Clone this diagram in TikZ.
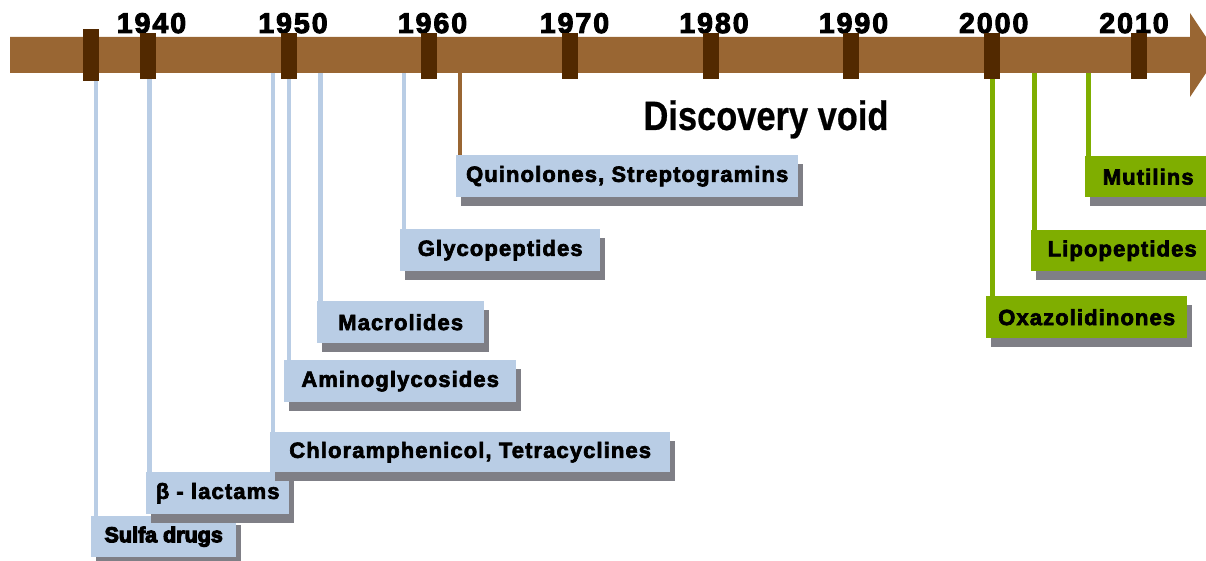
\documentclass[tikz,border=0pt]{standalone}
\usepackage{fontspec}
\usetikzlibrary{shadows,backgrounds}
\setmainfont{Liberation Sans}
\newfontfamily\labfont[LetterSpace=5,FakeBold=3]{Liberation Sans Bold}
\newfontfamily\sulfont[LetterSpace=0,FakeBold=5]{Liberation Sans Bold}
\newfontfamily\yearfont[LetterSpace=7,FakeBold=3.5]{Liberation Sans Bold}
\newfontfamily\voidfont[FakeStretch=0.84,FakeBold=0.5]{Liberation Sans Bold}
\definecolor{barbrown}{HTML}{996633}
\definecolor{tickbrown}{HTML}{522900}
\definecolor{lblue}{HTML}{B9CDE5}
\definecolor{lgreen}{HTML}{7FAE00}
\definecolor{shgray}{HTML}{7F7F86}
\tikzset{
  box/.style={anchor=north west, inner sep=0pt, align=center,
    font=\labfont\fontsize{22}{24}\selectfont,
    drop shadow={shadow xshift=5pt, shadow yshift=-9pt, fill=shgray, opacity=1}},
  bluebox/.style={box, fill=lblue},
  greenbox/.style={box, fill=lgreen},
  conn/.style={line width=4.5pt},
  tickmark/.style={fill=tickbrown, draw=none},
  yearlbl/.style={anchor=base, inner sep=0pt, font=\yearfont\fontsize{28.5}{30}\selectfont}
}
\begin{document}
\begin{tikzpicture}[x=1pt,y=-1pt]
\useasboundingbox (0,0) rectangle (1206,561);
\clip (0,0) rectangle (1206,561);
% boxes
\node[bluebox, minimum width=145pt, minimum height=41pt, font=\sulfont\fontsize{21.5}{24}\selectfont] (sulfa) at (91,516) {Sulfa drugs};
\node[bluebox, minimum width=143pt, minimum height=42pt] (beta) at (146,472) {β - lactams};
\node[bluebox, minimum width=400pt, minimum height=40pt] (chlor) at (270,432) {Chloramphenicol, Tetracyclines};
\node[bluebox, minimum width=232pt, minimum height=42pt] (amino) at (284,360) {Aminoglycosides};
\node[bluebox, minimum width=167pt, minimum height=42pt] (macro) at (317,301) {Macrolides};
\node[bluebox, minimum width=200pt, minimum height=42pt] (glyco) at (400,229) {Glycopeptides};
\node[bluebox, minimum width=342pt, minimum height=42pt] (quino) at (456,155) {Quinolones, Streptogramins};
\node[greenbox, minimum width=201pt, minimum height=42pt] (oxaz) at (986,296) {Oxazolidinones};
\node[greenbox, minimum width=182pt, minimum height=41pt] (lipo) at (1031,230) {Lipopeptides};
\node[greenbox, minimum width=126pt, minimum height=41pt] (mutil) at (1085,156) {Mutilins};
% connector anchors on the bar
\coordinate (cs) at (96,73);
\coordinate (cb) at (149.5,73);
\coordinate (cc) at (273,73);
\coordinate (ca) at (289,73);
\coordinate (cm) at (320.5,73);
\coordinate (cg) at (404,73);
\coordinate (cq) at (460,73);
\coordinate (co) at (992.5,73);
\coordinate (cl) at (1034.5,73);
\coordinate (cu) at (1088.5,73);
% connectors (under the boxes)
\begin{scope}[on background layer]
\draw[conn, lblue] (cs) -- (cs |- sulfa.north);
\draw[conn, lblue] (cb) -- (cb |- beta.north);
\draw[conn, lblue] (cc) -- (cc |- chlor.north);
\draw[conn, lblue] (ca) -- (ca |- amino.north);
\draw[conn, lblue] (cm) -- (cm |- macro.north);
\draw[conn, lblue] (cg) -- (cg |- glyco.north);
\draw[conn, barbrown] (cq) -- (cq |- quino.north);
\draw[conn, lgreen] (co) -- (co |- oxaz.north);
\draw[conn, lgreen] (cl) -- (cl |- lipo.north);
\draw[conn, lgreen] (cu) -- (cu |- mutil.north);
\end{scope}
% year labels
\node[yearlbl] (y40) at (151.5,33) {1940};
\node[yearlbl] (y50) at (293,33) {1950};
\node[yearlbl] (y60) at (432.5,33) {1960};
\node[yearlbl] (y70) at (574.5,33) {1970};
\node[yearlbl] (y80) at (714,33) {1980};
\node[yearlbl] (y90) at (853.5,33) {1990};
\node[yearlbl] (y00) at (993.7,33) {2000};
\node[yearlbl] (y10) at (1134,33) {2010};
% timeline arrow
\fill[barbrown] (10,37) -- (1190,37) -- (1190,13) -- (1218,55) -- (1190,97) -- (1190,73) -- (10,73) -- cycle;
% ticks
\fill[tickmark] (83,29) rectangle (99,81);
\foreach \t in {148,289,429,570,711,851,992,1139}{
  \fill[tickmark] (\t-8,33) rectangle (\t+8,79);
}
% discovery void
\node[anchor=base, inner sep=0pt, font=\voidfont\fontsize{41}{44}\selectfont] (void) at (766,130) {Discovery void};
\end{tikzpicture}
\end{document}
